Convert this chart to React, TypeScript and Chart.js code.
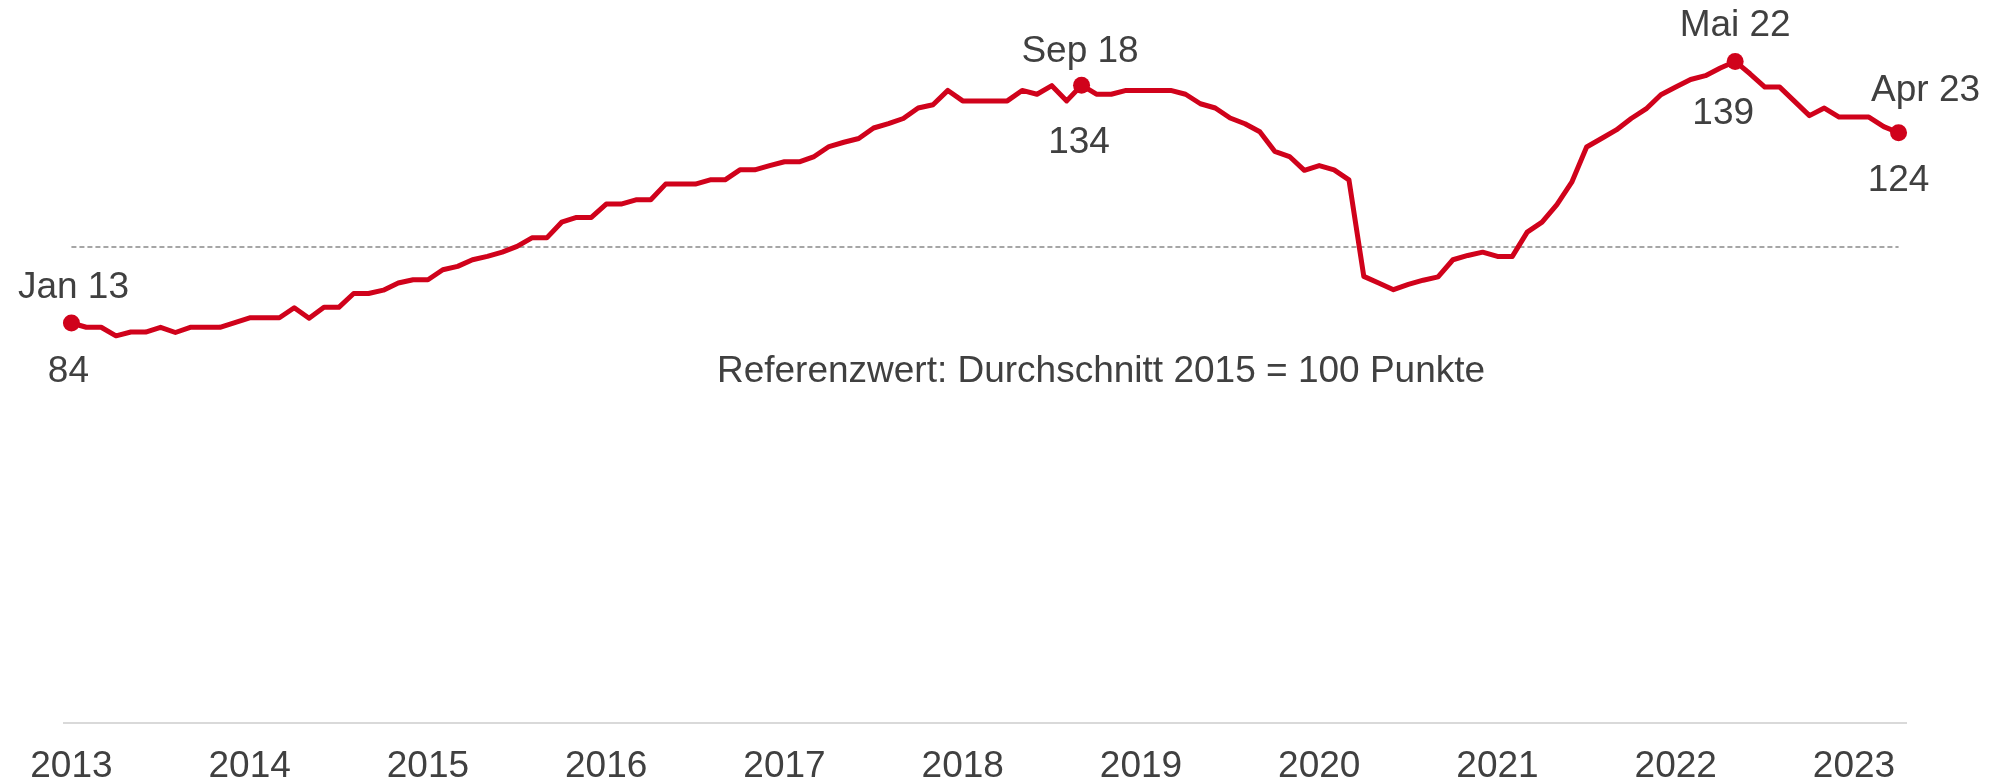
import React, { useEffect, useRef } from 'react';
import { Chart, registerables } from 'chart.js';

Chart.register(...registerables);

// ---------- data ----------
const MONTHS = ['Jan', 'Feb', 'Mär', 'Apr', 'Mai', 'Jun', 'Jul', 'Aug', 'Sep', 'Okt', 'Nov', 'Dez'];
const YEARS = ['13', '14', '15', '16', '17', '18', '19', '20', '21', '22', '23'];

const values = [
  84, 83.1, 83.1, 81.3, 82.1, 82.1, 83.1, 82.0, 83.1, 83.1, 83.1, 84.1,
  85.1, 85.1, 85.1, 87.2, 85.0, 87.3, 87.3, 90.2, 90.2, 90.9, 92.4, 93.1,
  93.1, 95.2, 95.9, 97.3, 98.0, 98.9, 100.1, 101.9, 101.9, 105.2, 106.2, 106.2,
  109.0, 109.0, 109.9, 109.9, 113.2, 113.2, 113.2, 114.1, 114.1, 116.2, 116.2, 117.1,
  117.9, 117.9, 119.0, 121.1, 122.0, 122.8, 125.0, 125.9, 127.0, 129.2, 129.9, 132.9,
  130.7, 130.7, 130.7, 130.7, 132.9, 132.1, 133.9, 130.7, 134, 132.1, 132.1, 132.9,
  132.9, 132.9, 132.9, 132.1, 130.1, 129.2, 127.1, 125.9, 124.2, 120.1, 119.0, 116.1,
  117.1, 116.2, 114.1, 93.8, 92.4, 91.0, 92.1, 93.0, 93.7, 97.3, 98.2, 98.9,
  98.0, 98.0, 103.1, 105.2, 108.9, 113.6, 121.0, 122.8, 124.6, 127.0, 129.0, 132.0,
  133.6, 135.2, 136.0, 137.6, 139, 136.4, 133.6, 133.6, 130.6, 127.6, 129.2, 127.3,
  127.3, 127.3, 125.3, 124,
];

const categories: string[] = [];
YEARS.forEach((y) => MONTHS.forEach((m) => categories.push(`${m} ${y}`)));
const labels = categories.slice(0, values.length);

const yearTicks = ['2013', '2014', '2015', '2016', '2017', '2018', '2019', '2020', '2021', '2022', '2023'];

const referenceValue = 100;
const highlightIdx = [0, 68, 112, 123];
const highlightDate = ['Jan 13', 'Sep 18', 'Mai 22', 'Apr 23'];
const highlightValue = ['84', '134', '139', '124'];
const noteText = 'Referenzwert: Durchschnitt 2015 = 100 Punkte';

// ---------- styles / positions ----------
const FONT = '"Liberation Sans", Arial, sans-serif';
const FONT_SIZE = 37;
const TEXT_COLOR = '#404040';
const RED = '#D0021B';
const DATE_OFFSETS = [[2, -25], [-1.5, -23.3], [0, -25], [27, -31.6]];
const VALUE_OFFSETS = [[-3, 58.7], [-2.5, 68.3], [-12, 62.3], [0, 58.4]];
const NOTE_POS = [1101, 382];

const overlayPlugin = {
  id: 'overlay',
  beforeDatasetsDraw(chart: any) {
    const { ctx } = chart;
    const xs = chart.scales.x;
    const ys = chart.scales.y;
    const y = ys.getPixelForValue(referenceValue);
    const x0 = xs.getPixelForValue(0);
    const x1 = xs.getPixelForValue(values.length - 1);
    ctx.save();
    ctx.strokeStyle = '#a6a6a6';
    ctx.lineWidth = 2;
    ctx.setLineDash([5, 3]);
    ctx.beginPath();
    ctx.moveTo(x0, y);
    ctx.lineTo(x1, y);
    ctx.stroke();
    ctx.restore();
  },
  afterDatasetsDraw(chart: any) {
    const { ctx } = chart;
    const meta = chart.getDatasetMeta(0);
    ctx.save();
    ctx.font = `${FONT_SIZE}px ${FONT}`;
    ctx.fillStyle = TEXT_COLOR;
    ctx.textAlign = 'center';
    ctx.textBaseline = 'alphabetic';
    highlightIdx.forEach((idx, k) => {
      const pt = meta.data[idx];
      ctx.fillText(highlightDate[k], pt.x + DATE_OFFSETS[k][0], pt.y + DATE_OFFSETS[k][1]);
      ctx.fillText(highlightValue[k], pt.x + VALUE_OFFSETS[k][0], pt.y + VALUE_OFFSETS[k][1]);
    });
    ctx.fillText(noteText, NOTE_POS[0], NOTE_POS[1]);
    ctx.restore();
  },
};

export default function App() {
  const canvasRef = useRef<HTMLCanvasElement | null>(null);

  useEffect(() => {
    const canvas = canvasRef.current;
    if (!canvas) return;
    const chart = new Chart(canvas, {
      type: 'line',
      data: {
        labels,
        datasets: [
          {
            data: values,
            borderColor: RED,
            backgroundColor: RED,
            borderWidth: 5,
            borderJoinStyle: 'round',
            borderCapStyle: 'round',
            tension: 0,
            pointRadius: (c: any) => (highlightIdx.includes(c.dataIndex) ? 8.5 : 0),
            pointBackgroundColor: RED,
            pointBorderWidth: 0,
            pointHoverRadius: 0,
          },
        ],
      },
      options: {
        responsive: false,
        animation: false,
        devicePixelRatio: 1,
        layout: { padding: { top: 9.1, left: 64, right: 89, bottom: 0 } },
        plugins: { legend: { display: false }, tooltip: { enabled: false } },
        events: [],
        scales: {
          x: {
            type: 'category',
            offset: true,
            grid: { display: false, drawTicks: false },
            border: { display: true, color: '#d9d9d9', width: 2 },
            ticks: {
              autoSkip: false,
              maxRotation: 0,
              minRotation: 0,
              padding: 22,
              color: TEXT_COLOR,
              font: { family: FONT, size: FONT_SIZE },
              callback: (_v: any, i: number) => (i % 12 === 0 ? yearTicks[i / 12] : ''),
            },
            afterFit: (s: any) => {
              s.height = 60.5;
            },
          },
          y: {
            display: false,
            min: 0,
            max: 150,
          },
        },
      },
      plugins: [overlayPlugin],
    });
    return () => chart.destroy();
  }, []);

  return (
    <div style={{ position: 'fixed', left: 0, top: 0, width: 1995, height: 783, background: '#fff' }}>
      <canvas ref={canvasRef} width={1995} height={783} style={{ width: 1995, height: 783, display: 'block' }} />
    </div>
  );
}
